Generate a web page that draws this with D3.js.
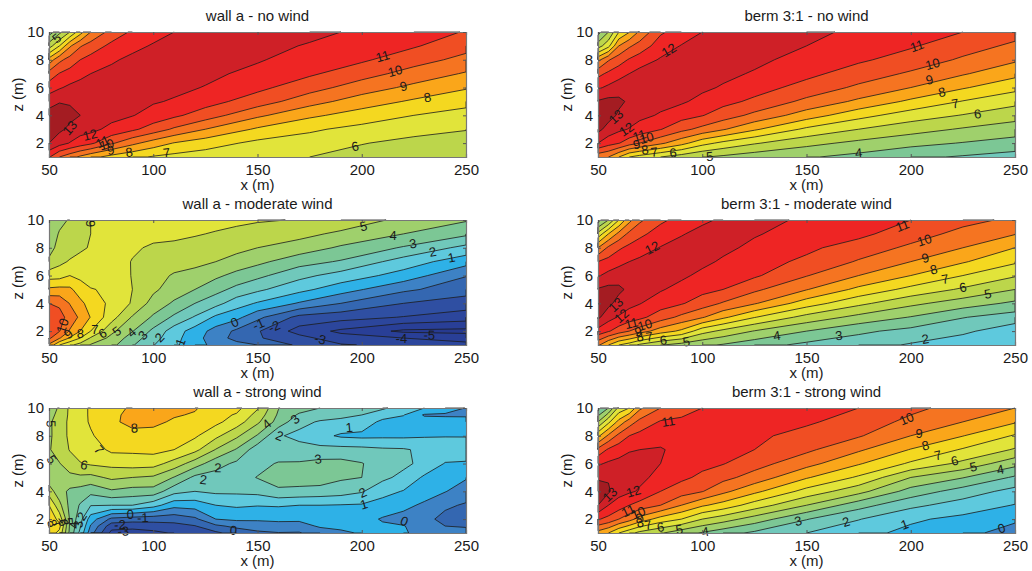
<!DOCTYPE html>
<html>
<head>
<meta charset="utf-8">
<script src="https://cdn.jsdelivr.net/npm/d3@7"></script>
<style>
    body { margin: 0; background: #fff; }
    text { font-family: "Liberation Sans", Arial, sans-serif; fill: #1a1a1a; }
</style>
</head>
<body>
<div id="chart"></div>
<script>
// contour levels and the fill of the band that starts at each level
const levels = [-6, -5, -4, -3, -2, -1, 0, 1, 2, 3, 4, 5, 6, 7, 8, 9, 10, 11, 12, 13];
const bandColors = ["#273a90", "#293f97", "#2c469c", "#2f4fa2", "#3467b1", "#3d82c5", "#2eb1e7", "#5ec9dd",
    "#70c8bb", "#7cc795", "#9fd06c", "#bcd64b", "#e1e43a", "#f4d820", "#faa61a", "#f57421",
    "#f04e23", "#ee2524", "#cf2027", "#a41c22"];

const xTicks = [50, 100, 150, 200, 250];
const zTicks = [2, 4, 6, 8, 10];

// grid positions, one list of z values per x column
const xGrid = [50, 55, 60, 65, 70, 80, 90, 100, 110, 125, 150, 175, 200, 225, 250];
const zGrid = [1, 2, 3, 4, 5, 6, 7, 8, 9, 10];
const xGridModerate = [50, 55, 60, 65, 70, 80, 90, 100, 110, 120, 130, 140, 150, 170, 190, 220, 250];
const zGridModerate = [1, 1.5, 2, 3, 4, 5, 6, 7, 8, 9, 10];
const xGridStrong = [50, 55, 60, 65, 70, 80, 90, 100, 110, 120, 130, 140, 150, 160, 170, 180, 190, 200, 210, 220, 230, 240, 250];
const zGridStrong = [1, 1.5, 2, 3, 4, 5, 6, 7, 8, 9, 9.5, 10];

const wallNoWind = [
    [11.1, 13, 13.5, 13.4, 12.6, 11.5, 10.4, 8.4, 5.5, 3.5],
    [10, 12.4, 13.2, 13.4, 12.95, 11.9, 11.05, 9.75, 7, 4.7],
    [9.4, 11.95, 12.8, 13.25, 12.9, 12.2, 11.4, 10.4, 8.85, 6],
    [8.8, 11.55, 12.4, 13, 12.7, 12.4, 11.7, 11, 9.9, 7.6],
    [8.3, 11.2, 12.3, 12.65, 12.6, 12.55, 12, 11.35, 10.45, 9],
    [7.65, 10.15, 11.7, 12.35, 12.5, 12.5, 12.3, 11.85, 11.25, 10.4],
    [7.25, 9.25, 11.2, 12.05, 12.3, 12.4, 12.45, 12.25, 11.7, 11.15],
    [6.9, 8.55, 10.55, 11.6, 12.1, 12.3, 12.45, 12.4, 12.1, 11.6],
    [6.7, 7.95, 9.85, 11.2, 11.9, 12.25, 12.4, 12.45, 12.35, 12],
    [6.5, 7.45, 9, 10.5, 11.4, 11.95, 12.25, 12.45, 12.5, 12.4],
    [6.15, 6.75, 7.85, 9.2, 10.5, 11.25, 11.7, 12.1, 12.35, 12.45],
    [6, 6.55, 7.15, 8.2, 9.4, 10.4, 11.15, 11.5, 11.9, 12.3],
    [5.6, 6.05, 6.7, 7.55, 8.5, 9.5, 10.4, 11.15, 11.55, 11.8],
    [5.3, 5.7, 6.35, 7, 7.85, 8.75, 9.6, 10.4, 11.1, 11.37],
    [5.1, 5.5, 6.05, 6.65, 7.3, 8.1, 8.9, 9.7, 10.35, 10.95]
];

const bermNoWind = [
    [9.3, 12, 13.3, 13.6, 13.1, 11.85, 10.7, 8.7, 5.5, 3.6],
    [9, 11.4, 12.6, 13.4, 13.3, 12.2, 11.2, 9.9, 6.7, 5],
    [8, 11.05, 12.2, 12.85, 13.2, 12.55, 11.6, 10.55, 9, 7],
    [7, 10.45, 11.95, 12.45, 12.85, 12.55, 12, 11.1, 9.85, 7.95],
    [6.6, 10, 11.6, 12.25, 12.5, 12.6, 12.35, 11.5, 10.4, 9.2],
    [6, 9.2, 11.05, 11.9, 12.3, 12.45, 12.5, 12.1, 11.5, 10.85],
    [5.5, 8.35, 10.3, 11.4, 12.15, 12.35, 12.45, 12.5, 12.05, 11.45],
    [5.05, 7.35, 9.7, 11.05, 11.7, 12.2, 12.4, 12.5, 12.45, 12],
    [4.8, 6.75, 9.1, 10.5, 11.3, 11.9, 12.25, 12.4, 12.5, 12.35],
    [4.45, 6.1, 8.15, 9.75, 10.8, 11.4, 11.9, 12.25, 12.45, 12.5],
    [4.1, 5.3, 6.8, 8.5, 9.75, 10.65, 11.25, 11.6, 12, 12.3],
    [3.7, 4.75, 6, 7.35, 8.8, 9.8, 10.55, 11.15, 11.45, 11.75],
    [3.2, 4.3, 5.4, 6.5, 7.8, 9, 9.85, 10.6, 11.1, 11.5],
    [2.9, 3.95, 4.9, 5.95, 6.95, 8.1, 9.1, 9.85, 10.45, 11],
    [2.6, 3.6, 4.5, 5.4, 6.3, 7.3, 8.3, 9.15, 9.8, 10.4]
];

const bermModerate = [
    [9.2, 11.65, 13.2, 13.6, 13.1, 11.9, 11, 9, 6.3, 3.6],
    [8, 11.1, 12.4, 13.25, 13.3, 12.3, 11.35, 10.2, 8, 5],
    [7, 10.5, 11.9, 12.65, 13.2, 12.55, 11.7, 10.85, 9.3, 7],
    [6.5, 10, 11.5, 12.3, 12.8, 12.6, 12, 11.25, 10.25, 8.7],
    [5.8, 9.5, 11.25, 12.05, 12.45, 12.6, 12.2, 11.55, 10.75, 9.8],
    [5.05, 8.5, 10.5, 11.45, 12.1, 12.4, 12.5, 12.05, 11.45, 10.8],
    [4.6, 7.8, 9.75, 11.1, 11.65, 12.2, 12.4, 12.5, 11.9, 11.35],
    [4.2, 6.4, 9.1, 10.5, 11.3, 11.75, 12.25, 12.45, 12.4, 11.75],
    [3.9, 5.75, 8.2, 9.9, 11, 11.45, 11.85, 12.25, 12.5, 12.2],
    [3.4, 4.95, 7.05, 9.1, 10.2, 11.15, 11.4, 11.75, 12.1, 12.4],
    [2.75, 4, 5.65, 7.5, 9.05, 10.05, 10.8, 11.2, 11.5, 11.8],
    [2.4, 3.2, 4.7, 6.25, 7.75, 9, 9.9, 10.55, 11.25, 11.55],
    [1.9, 2.7, 3.95, 5.25, 6.7, 8, 9, 9.8, 10.45, 11],
    [1.4, 2.2, 3.05, 4.5, 5.85, 7, 8.1, 9, 9.7, 10.3],
    [1.2, 1.4, 2.5, 3.8, 5, 6.1, 7.15, 8, 9.05, 9.8]
];

const bermStrong = [
    [8.6, 11.1, 13, 13.4, 12.9, 11.85, 10.3, 7.75, 5, 2.7],
    [8, 10.7, 12, 13.15, 12.9, 12.15, 11.15, 9.2, 6.75, 4],
    [7, 10, 11.55, 12.35, 12.5, 12.3, 11.55, 10.3, 8.35, 6.3],
    [6.3, 9.4, 11, 12.15, 12.4, 12.45, 11.9, 11, 9.5, 7],
    [5.7, 8.6, 10.6, 11.9, 12.2, 12.4, 12, 11.3, 10.3, 8.8],
    [5.1, 7.6, 10, 11, 11.75, 12, 12.1, 11.55, 11.1, 10],
    [4.4, 7, 9, 10.5, 11.2, 11.5, 11.65, 11.6, 11.2, 10.6],
    [3.9, 6, 8.15, 10.05, 10.8, 11.25, 11.5, 11.6, 11.45, 11],
    [3.4, 5.45, 7.6, 9.25, 10.3, 11.05, 11.3, 11.5, 11.6, 11.4],
    [2.8, 4.55, 6.55, 8.25, 9.6, 10.4, 11, 11.2, 11.45, 11.6],
    [2, 3.05, 5, 6.65, 8.1, 9.35, 10.2, 10.65, 11.15, 11.4],
    [1.3, 2.05, 3.4, 5.35, 6.85, 8.1, 9.15, 10.1, 10.55, 11],
    [0.75, 1.15, 2.25, 3.6, 5, 6.85, 7.95, 9, 9.75, 10.25],
    [0.35, 0.75, 1.55, 2.55, 4.05, 5.75, 6.9, 8.03, 9, 9.6],
    [-0.5, 0.2, 0.95, 1.65, 2.85, 4.35, 5.9, 6.9, 8.1, 9]
];

const wallModerate = [
    [8.8, 10.2, 10.9, 10.8, 10, 8.2, 6.55, 5.2, 4.6, 4.3, 4.4],
    [7, 9.1, 10.05, 10.4, 9.8, 8.3, 6.6, 5.75, 5.35, 5.1, 4.7],
    [6.2, 7.9, 8.9, 9.6, 8.95, 8.2, 7, 6.1, 5.55, 5.35, 5.1],
    [5.6, 7, 8, 8.8, 8.25, 7.5, 6.75, 6.2, 5.9, 5.75, 5.6],
    [4.9, 5.9, 7, 7.95, 7.6, 7.05, 6.6, 6.3, 6.05, 6, 6],
    [4.3, 4.7, 5.25, 6.4, 6.75, 6.85, 6.6, 6.5, 6.4, 6.3, 6.3],
    [3.1, 3.55, 4.05, 4.9, 5.9, 6, 5.95, 5.95, 6.15, 6.4, 6.5],
    [2.05, 2.4, 2.75, 3.85, 4.6, 5.2, 5.35, 5.6, 5.85, 6.3, 6.7],
    [1.2, 1.35, 1.5, 2.8, 3.85, 4.5, 4.9, 5.4, 5.75, 6.25, 6.6],
    [0.4, 0.4, 0.55, 1.9, 3, 4, 4.75, 5.2, 5.55, 6.1, 6.5],
    [-0.3, -0.6, -0.4, 0.8, 2.35, 3.35, 4.2, 5, 5.45, 5.9, 6.4],
    [-0.7, -1.3, -1.2, 0.3, 1.45, 2.7, 3.7, 4.6, 5.3, 5.7, 6.25],
    [-1, -1.9, -1.9, -0.75, 0.9, 2.2, 3.25, 4.25, 5, 5.55, 6.1],
    [-2.2, -2.65, -3.4, -2.3, -0.1, 1.3, 2.3, 3.4, 4.55, 5.3, 5.95],
    [-2.9, -3.6, -4.2, -2.6, -1, 0.45, 1.6, 2.9, 3.85, 4.8, 5.65],
    [-3.3, -4, -5.2, -3.05, -2, -0.8, 0.6, 1.55, 2.9, 4, 4.75],
    [-3.7, -4.4, -5.3, -3.5, -2.5, -1.55, -0.95, 0.4, 1.7, 3.2, 4.1]
];

const wallStrong = [
    [7.6, 8.1, 7.9, 7, 5.5, 4.4, 4.6, 4.9, 4.8, 4.85, 4.7, 4.6],
    [6.7, 7.3, 6.6, 5.3, 4.4, 4.55, 4.95, 5.5, 5.5, 5.4, 5.25, 5.1],
    [3.75, 3.85, 3.9, 3.7, 3.8, 4.7, 5.6, 6.05, 6.2, 6.25, 6.2, 6.2],
    [1.7, 2.1, 2.35, 2.9, 3.6, 4.8, 5.95, 6.4, 6.55, 6.7, 6.75, 6.75],
    [-0.6, -0.1, 0.5, 2.05, 3.3, 4.7, 6.15, 6.5, 6.9, 7.1, 7.1, 7.1],
    [-3.3, -2.6, -1.25, 2, 3.85, 5.2, 6.3, 7.2, 7.5, 7.8, 7.75, 7.65],
    [-3.4, -2.7, -1.5, 2, 3.6, 5, 6.45, 7.2, 7.65, 8.3, 8.3, 8.15],
    [-3.25, -2.5, -1.6, 1.4, 3.6, 4.85, 6.4, 7.3, 7.6, 8.25, 8.4, 8.5],
    [-2.9, -2.3, -1.65, 0.35, 2.35, 3.95, 5.6, 7, 7.3, 7.85, 8.1, 8.35],
    [-2.6, -2.05, -1.2, 0.45, 2, 2.75, 4.5, 6.3, 7.15, 7.65, 7.9, 8.1],
    [-2.2, -1.2, 0, 1, 2.2, 2.6, 3.4, 4.95, 6.25, 7.25, 7.35, 7.45],
    [-1.6, -0.75, 0.2, 1.15, 2.2, 2.5, 2.8, 3.9, 5.2, 6.5, 6.9, 7.3],
    [-1.2, -0.5, 0.15, 1.05, 2.3, 3.05, 2.6, 2.4, 3.9, 5.2, 5.65, 6.1],
    [-1.05, -0.35, 0.2, 1.1, 2.8, 3.5, 3.1, 2.2, 2.1, 3.6, 3.85, 4.05],
    [-1.1, -0.3, 0.15, 1, 2.7, 3.55, 3.1, 2.35, 1.75, 2.3, 2.85, 3.45],
    [-0.4, 0.1, 0.4, 1, 2.6, 3.55, 3.3, 2.3, 1.3, 1.9, 2.45, 3],
    [-0.2, 0.25, 0.45, 0.95, 2.45, 3.15, 3.3, 2.35, 0.85, 1.8, 2.2, 2.6],
    [0.1, 0.25, 0.4, 0.9, 2.1, 3, 3.05, 2.3, 0.75, 1.6, 2, 2.4],
    [0.3, 0.15, -0.1, 0.65, 1.3, 2.25, 2.5, 2.15, 0.8, 0.75, 1.45, 2.15],
    [0.1, 0.05, -0.4, 0.3, 0.95, 1.7, 2.25, 2.1, 0.8, 0.6, 1.05, 1.55],
    [-0.3, -0.5, -0.75, -0.2, 0.55, 0.85, 1.7, 1.8, 0.9, 0.45, -0.1, 1],
    [-0.7, -1, -1.25, -0.85, 0.05, 0.4, 0.95, 1.55, 0.95, 0.6, -0.2, 0.75],
    [-0.8, -1.05, -1.35, -1.1, -0.55, 0.1, 0.9, 1.5, 0.95, 0.65, -0.25, -0.05]
];

// contour labels: level, x, z
const wallNoWindLabels = [[5, 53.7, 9.55], [13, 60, 3.1], [12, 69.7, 2.6], [11, 75.7, 2.1], [10, 77.7, 1.9], [9, 79.6, 1.5],
    [8, 88.4, 1.35], [7, 106.4, 1.3], [6, 196.8, 1.77], [11, 210, 8.25], [10, 216, 7.2], [9, 220, 6.1], [8, 231.5, 5.3]];
const wallModerateLabels = [[6, 70, 9.73], [5, 200.8, 9.56], [4, 215, 8.9], [3, 224.6, 8.3], [2, 234, 7.7], [1, 243, 7.3],
    [0, 139, 2.64], [-1, 150.4, 2.5], [-2, 158, 2.33], [-3, 180, 1.43], [-4, 219, 1.5], [-5, 232.4, 1.72],
    [10, 56.5, 2.4], [9, 59.3, 1.8], [8, 65, 1.85], [7, 72, 2.1], [6, 75.7, 1.85], [5, 82.5, 2], [4, 89.6, 1.9],
    [3, 95, 1.7], [2, 103, 1.55], [1, 113, 1.2]];
const wallStrongLabels = [[5, 51, 8.87], [5, 51.3, 6.3], [6, 66.8, 5.9], [7, 74, 7], [8, 91, 8.56], [4, 154.4, 8.85], [3, 168, 9.2],
    [2, 160.5, 8], [1, 194, 8.6], [3, 179, 6.33], [2, 131, 5.7], [2, 124, 4.85], [2, 200.4, 3.9], [1, 201, 3.06],
    [0, 89, 2.34], [-1, 95, 2.1], [-2, 84, 1.6], [-3, 85.6, 1.14], [0, 138.4, 1.2], [0, 220.4, 1.86], [2, 65.7, 2.2],
    [8, 51.6, 1.7], [7, 54, 1.7], [6, 56.9, 1.75], [5, 59.3, 1.85], [4, 62, 1.57], [3, 64, 1.62]];
const bermNoWindLabels = [[12, 84, 8.7], [11, 203, 9], [10, 210.5, 7.7], [9, 209, 6.57], [8, 215, 5.68], [7, 221.3, 4.84],
    [6, 232, 4.1], [4, 175, 1.3], [5, 103.6, 1.05], [6, 86, 1.3], [7, 77, 1.36], [8, 72.5, 1.53], [9, 68.5, 1.9],
    [10, 73.3, 2.37], [11, 69.8, 2.54], [12, 63.7, 3], [13, 58.6, 3.9]];
const bermModerateLabels = [[12, 76, 8], [13, 58.6, 3.9], [12, 61.3, 3.1], [11, 66, 2.57], [10, 72.5, 2.45], [9, 69.3, 1.96],
    [8, 70, 1.6], [7, 74.6, 1.6], [6, 81.3, 1.36], [5, 92.4, 1.24], [4, 135.8, 1.68], [3, 165.5, 1.68], [2, 207, 1.43],
    [11, 196, 9.6], [10, 206.5, 8.55], [9, 207, 7.27], [8, 211, 6.43], [7, 216.5, 5.75], [6, 225, 5.15], [5, 237, 4.67]];
const bermStrongLabels = [[11, 83.7, 9.04], [10, 198, 9.23], [9, 204, 8.2], [8, 207, 7.3], [7, 213, 6.6], [6, 221, 6.2],
    [5, 230, 5.76], [4, 243, 5.57], [13, 55.7, 3.78], [12, 67, 4], [11, 64.5, 2.6], [10, 69.3, 2.46], [9, 70, 2.1],
    [8, 70, 1.74], [7, 74, 1.57], [6, 80, 1.43], [5, 89, 1.26], [4, 101.5, 1.1], [3, 146, 1.86], [2, 169, 1.8],
    [1, 197, 1.62], [0, 243.5, 1.33]];

const panels = [
    {title: "wall a - no wind", left: 49, top: 32, xs: xGrid, zs: zGrid, columns: wallNoWind, labels: wallNoWindLabels},
    {title: "wall a - moderate wind", left: 49, top: 220, xs: xGridModerate, zs: zGridModerate, columns: wallModerate, labels: wallModerateLabels},
    {title: "wall a - strong wind", left: 49, top: 408, xs: xGridStrong, zs: zGridStrong, columns: wallStrong, labels: wallStrongLabels},
    {title: "berm 3:1 - no wind", left: 598, top: 32, xs: xGrid, zs: zGrid, columns: bermNoWind, labels: bermNoWindLabels},
    {title: "berm 3:1 - moderate wind", left: 598, top: 220, xs: xGrid, zs: zGrid, columns: bermModerate, labels: bermModerateLabels},
    {title: "berm 3:1 - strong wind", left: 598, top: 408, xs: xGrid, zs: zGrid, columns: bermStrong, labels: bermStrongLabels}
];

const plotWidth = 417, plotHeight = 125;

const svg = d3.select("#chart").append("svg")
    .attr("width", 1032)
    .attr("height", 571)
    .style("display", "block");

panels.forEach(drawPanel);

function drawPanel(panel)
{
    const x = d3.scaleLinear().domain([50, 250]).range([0, plotWidth]);
    const y = d3.scaleLinear().domain([1, 10]).range([plotHeight, 0]);

    const nx = panel.xs.length, nz = panel.zs.length;

    // d3.contours puts grid value i at i + 0.5, the outer half cell is clamped onto the frame
    const xIndex = d3.scaleLinear().domain(panel.xs.map((d, i) => i + 0.5)).range(panel.xs.map(x)).clamp(true);
    const yIndex = d3.scaleLinear().domain(panel.zs.map((d, i) => i + 0.5)).range(panel.zs.map(y)).clamp(true);

    const values = [];
    for (let j = 0; j < nz; j++)
        for (let i = 0; i < nx; i++)
            values.push(panel.columns[i][j]);

    const contours = d3.contours().size([nx, nz]).thresholds(levels)(values);

    const g = svg.append("g").attr("transform", `translate(${panel.left},${panel.top})`);

    g.append("rect").attr("width", plotWidth).attr("height", plotHeight).attr("fill", bandColors[0]);

    const toPath = d3.geoPath(d3.geoTransform({
        point(a, b) { this.stream.point(xIndex(a), yIndex(b)); }
    }));

    g.selectAll("path.band")
        .data(contours)
        .enter().append("path")
            .attr("class", "band")
            .attr("d", toPath)
            .attr("fill", (d, i) => bandColors[i]);

    // contour lines: same rings, without the stretches that run along the frame
    const segments = contours.map(c => contourSegments(c, nx, nz, xIndex, yIndex));

    g.selectAll("path.line")
        .data(segments)
        .enter().append("path")
            .attr("class", "line")
            .attr("d", s => s.map(p => `M${p[0]},${p[1]}L${p[2]},${p[3]}`).join(""))
            .attr("fill", "none")
            .attr("stroke", "#1c1c1c")
            .attr("stroke-width", 0.8);

    g.selectAll("text.level")
        .data(panel.labels)
        .enter().append("text")
            .attr("class", "level")
            .attr("text-anchor", "middle")
            .attr("dy", "0.35em")
            .attr("font-size", 13)
            .attr("transform", d => {
                const px = x(d[1]), py = y(d[2]);
                return `translate(${px},${py}) rotate(${labelAngle(segments[levels.indexOf(d[0])], px, py)})`;
            })
            .text(d => d[0]);

    // frame and inward ticks on all four sides
    g.append("g").attr("class", "axis").attr("transform", `translate(0,${plotHeight})`)
        .call(d3.axisBottom(x).tickValues(xTicks).tickSize(-3).tickPadding(7).tickFormat(d3.format("d")));
    g.append("g").attr("class", "axis")
        .call(d3.axisLeft(y).tickValues(zTicks).tickSize(-3).tickPadding(5).tickFormat(d3.format("d")));
    g.append("g").attr("class", "axis")
        .call(d3.axisTop(x).tickValues(xTicks).tickSize(-3).tickFormat(""));
    g.append("g").attr("class", "axis").attr("transform", `translate(${plotWidth},0)`)
        .call(d3.axisRight(y).tickValues(zTicks).tickSize(-3).tickFormat(""));

    g.selectAll(".axis path").attr("stroke", "#777").attr("stroke-width", 1.2);
    g.selectAll(".axis line").attr("stroke", "#555");
    g.selectAll(".axis text").attr("font-size", 15).attr("font-family", "Liberation Sans");

    g.append("text")
        .attr("x", plotWidth / 2)
        .attr("y", -11)
        .attr("text-anchor", "middle")
        .attr("font-size", 15)
        .text(panel.title);

    g.append("text")
        .attr("x", plotWidth / 2)
        .attr("y", plotHeight + 33)
        .attr("text-anchor", "middle")
        .attr("font-size", 15)
        .text("x (m)");

    g.append("text")
        .attr("transform", `translate(-26,${plotHeight / 2}) rotate(-90)`)
        .attr("text-anchor", "middle")
        .attr("font-size", 15)
        .text("z (m)");
}

function contourSegments(contour, nx, nz, xIndex, yIndex)
{
    const out = [];
    contour.coordinates.forEach(polygon => polygon.forEach(ring => {
        for (let k = 0; k < ring.length - 1; k++)
        {
            const a = ring[k], b = ring[k + 1];
            const onFrame = (a[0] === b[0] && (a[0] === 0 || a[0] === nx))
                || (a[1] === b[1] && (a[1] === 0 || a[1] === nz));
            if (!onFrame)
                out.push([xIndex(a[0]), yIndex(a[1]), xIndex(b[0]), yIndex(b[1])]);
        }
    }));
    return out;
}

// the label follows the direction of the nearest piece of its own contour
function labelAngle(segs, px, py)
{
    let best = null, bestDist = Infinity;
    segs.forEach(s => {
        const mx = (s[0] + s[2]) / 2, my = (s[1] + s[3]) / 2;
        const dist = (mx - px) * (mx - px) + (my - py) * (my - py);
        if (dist < bestDist) { bestDist = dist; best = s; }
    });
    if (!best || bestDist > 900) return 0;
    let angle = Math.atan2(best[3] - best[1], best[2] - best[0]) * 180 / Math.PI;
    if (angle > 90) angle -= 180;
    if (angle < -90) angle += 180;
    return angle;
}
</script>
</body>
</html>
